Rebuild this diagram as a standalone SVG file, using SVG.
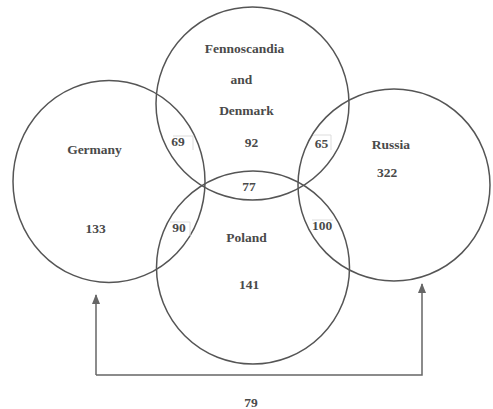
<svg xmlns="http://www.w3.org/2000/svg" width="493" height="409" viewBox="0 0 493 409">
<style>
.c{fill:none;stroke:#555;stroke-width:1.5}
.t{font-family:"Liberation Serif","Times New Roman",serif;font-weight:bold;font-size:13.5px;fill:#4a4a4a;text-anchor:middle}
.b{fill:none;stroke:#ddd;stroke-width:1}
.l{fill:none;stroke:#666;stroke-width:1.5}
</style>
<defs>
<marker id="ah" markerWidth="10" markerHeight="10" refX="9" refY="4" orient="auto" markerUnits="userSpaceOnUse">
<path d="M0,0 L10,4 L0,8 Z" fill="#666"/>
</marker>
</defs>
<rect width="493" height="409" fill="#fff"/>
<g id="germany">
<ellipse class="c" cx="109" cy="181.5" rx="96" ry="101"/>
<text class="t" x="94.5" y="154">Germany</text>
<text class="t" x="95.5" y="233">133</text>
</g>
<g id="fennoscandia">
<circle class="c" cx="252.5" cy="103.5" r="96.5"/>
<text class="t" x="244.5" y="53">Fennoscandia</text>
<text class="t" x="241.5" y="84">and</text>
<text class="t" x="246.5" y="115">Denmark</text>
<text class="t" x="251.5" y="147">92</text>
</g>
<g id="russia">
<circle class="c" cx="394" cy="185" r="96"/>
<text class="t" x="391" y="149">Russia</text>
<text class="t" x="387" y="177">322</text>
</g>
<g id="poland">
<circle class="c" cx="253" cy="267.5" r="96.5"/>
<text class="t" x="246.5" y="242">Poland</text>
<text class="t" x="249" y="289">141</text>
</g>
<g id="overlaps">
<path class="b" d="M173,136 H193 V150"/>
<text class="t" x="178" y="146">69</text>
<path class="b" d="M313,135 H331 V150"/>
<text class="t" x="321.5" y="148">65</text>
<path class="b" d="M170,222 H190 V236"/>
<text class="t" x="179" y="232">90</text>
<path class="b" d="M312,220 H333"/>
<text class="t" x="322" y="230">100</text>
<text class="t" x="249" y="191">77</text>
</g>
<g id="connectors">
<path class="l" d="M96,375 V295" marker-end="url(#ah)"/>
<path class="l" d="M96,375 H422 V284" marker-end="url(#ah)"/>
<text class="t" x="251" y="407">79</text>
</g>
</svg>
